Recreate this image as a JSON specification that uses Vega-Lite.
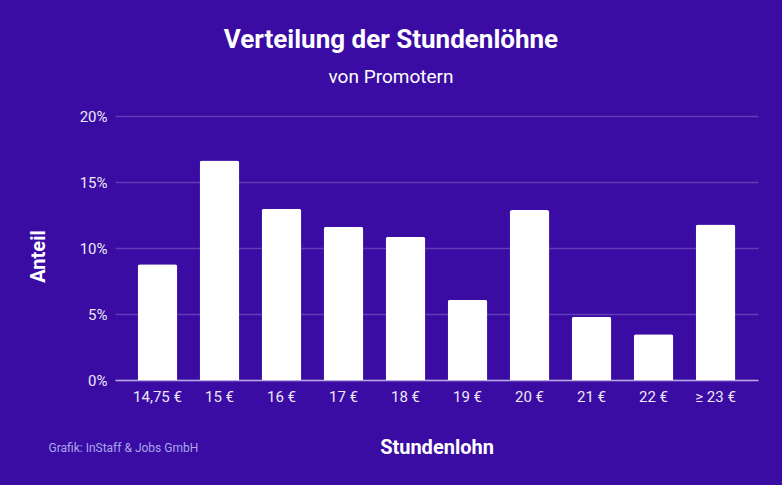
{
  "$schema": "https://vega.github.io/schema/vega-lite/v6.json",
  "width": 643,
  "height": 264,
  "autosize": "none",
  "padding": {"left": 115, "top": 116, "right": 24, "bottom": 105},
  "background": "#3a0ca3",
  "title": {
    "text": "Verteilung der Stundenlöhne",
    "subtitle": "von Promotern",
    "anchor": "middle",
    "frame": "group",
    "dx": -45.5,
    "font": "Roboto",
    "fontSize": 26,
    "fontWeight": "bold",
    "color": "#ffffff",
    "subtitleFont": "Roboto",
    "subtitleFontSize": 19,
    "subtitleColor": "#ffffff",
    "subtitlePadding": 15,
    "offset": 22
  },
  "config": {
    "view": {"stroke": null},
    "font": "Roboto"
  },
  "data": {
    "values": [
      {"lohn": "14,75 €", "anteil": 0.0876},
      {"lohn": "15 €", "anteil": 0.1663},
      {"lohn": "16 €", "anteil": 0.1297},
      {"lohn": "17 €", "anteil": 0.1161},
      {"lohn": "18 €", "anteil": 0.1085},
      {"lohn": "19 €", "anteil": 0.0608},
      {"lohn": "20 €", "anteil": 0.1287},
      {"lohn": "21 €", "anteil": 0.0479},
      {"lohn": "22 €", "anteil": 0.0346},
      {"lohn": "≥ 23 €", "anteil": 0.1178}
    ]
  },
  "layer": [
    {
      "mark": {"type": "bar", "color": "#ffffff", "cornerRadiusTopLeft": 2.5, "cornerRadiusTopRight": 2.5},
      "encoding": {
        "x": {
          "field": "lohn",
          "type": "nominal",
          "sort": null,
          "scale": {"paddingInner": 0.36, "paddingOuter": 0.365},
          "axis": {
            "title": "Stundenlohn",
            "titleFont": "Roboto",
            "titleFontSize": 20,
            "titleFontWeight": "bold",
            "titleColor": "#ffffff",
            "titlePadding": 33,
            "labelAngle": 0,
            "labelFont": "Roboto",
            "labelFontSize": 15,
            "labelColor": "#ece8f6",
            "labelPadding": 9,
            "ticks": false,
            "domain": true,
            "domainColor": "#b9a9e0",
            "domainWidth": 1.5
          }
        },
        "y": {
          "field": "anteil",
          "type": "quantitative",
          "scale": {"domain": [0, 0.2]},
          "axis": {
            "title": "Anteil",
            "titleFont": "Roboto",
            "titleFontSize": 20,
            "titleFontWeight": "bold",
            "titleColor": "#ffffff",
            "titleAngle": -90,
            "titleX": -71,
            "titleY": 140,
            "titleAlign": "center",
            "titleBaseline": "alphabetic",
            "format": ".0%",
            "values": [0, 0.05, 0.1, 0.15, 0.2],
            "labelFont": "Roboto",
            "labelFontSize": 15,
            "labelColor": "#ece8f6",
            "labelPadding": 8,
            "ticks": false,
            "domain": false,
            "grid": true,
            "gridColor": "#ffffff",
            "gridOpacity": 0.2,
            "gridWidth": 1.5
          }
        }
      }
    },
    {
      "mark": {"type": "bar", "opacity": 0},
      "encoding": {
        "x": {
          "field": "lohn",
          "type": "nominal",
          "sort": null,
          "axis": {
            "orient": "bottom",
            "title": "Grafik: InStaff & Jobs GmbH",
            "titleFont": "Roboto",
            "titleFontSize": 12,
            "titleFontWeight": "normal",
            "titleColor": "#a9a6ea",
            "titleX": -67,
            "titleY": 71,
            "titleAlign": "left",
            "titleBaseline": "alphabetic",
            "labels": false,
            "ticks": false,
            "domain": false,
            "grid": false
          }
        },
        "y": {"field": "anteil", "type": "quantitative"}
      }
    }
  ],
  "resolve": {"axis": {"x": "independent"}}
}
